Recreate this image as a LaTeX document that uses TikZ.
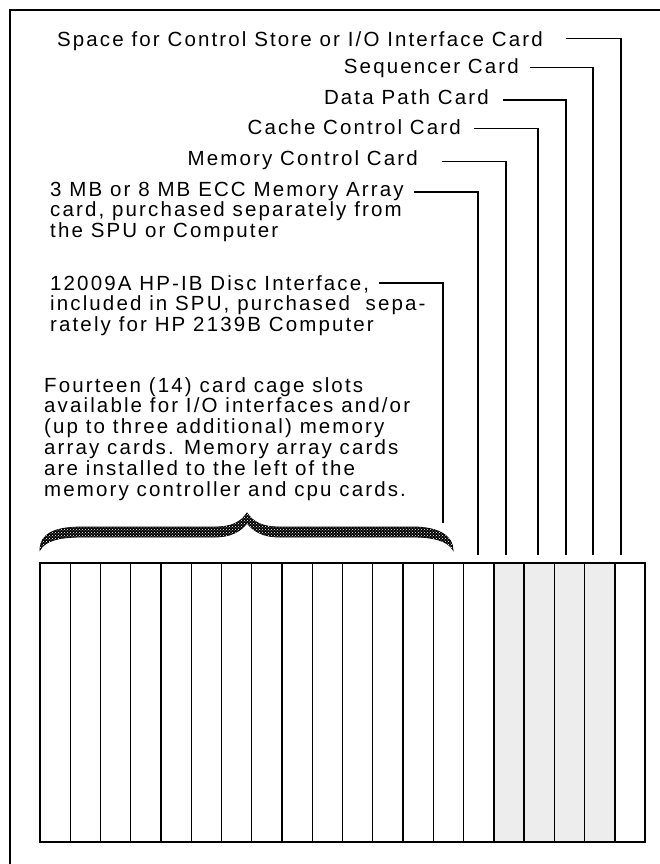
\documentclass[tikz,border=0pt]{standalone}
\usepackage{fontspec}
\setmainfont{Liberation Sans}[LetterSpace=10.4]
\usetikzlibrary{patterns}
\begin{document}
\begin{tikzpicture}[x=1pt,y=-1pt,
  lbl/.style={inner sep=0pt, font=\fontsize{20.5}{21}\selectfont},
  lbr/.style={lbl, anchor=base east},
  lbw/.style={lbl, anchor=base west},
  wire/.style={line width=1.4pt},
  slotline/.style={line width=1.3pt},
  frameline/.style={line width=1.4pt},
  cardfill/.style={fill=black!7},
  bracestyle/.style={fill=black, draw=black, line width=0.8pt,
     postaction={pattern=crosshatch dots, pattern color=white}}]
\useasboundingbox (0,0) rectangle (660,864);
% outer frame
\draw[frameline] (10,864) -- (10,10) -- (660,10);

% card cage
\fill[cardfill] (493.75,563) rectangle (614.75,842);
\foreach \i in {1,...,19} \draw[slotline] ({40+30.25*\i},563) -- ({40+30.25*\i},842);
\draw[line width=1.5pt] (40,563) rectangle (645,842);
\draw[line width=2.2pt] (493.75,563) rectangle (614.75,842);

% target coordinates above the slots
\coordinate (tsp) at (621,555);
\coordinate (tsq) at (593,555);
\coordinate (tdp) at (566,555);
\coordinate (tcc) at (538,555);
\coordinate (tmc) at (506,555);
\coordinate (tma) at (478,555);
\coordinate (thp) at (443,523);

% top labels
\node[lbr] (sp) at (543,46.5) {Space for Control Store or I/O Interface Card};
\node[lbr] (sq) at (519,73.5) {Sequencer Card};
\node[lbr] (dp) at (489,105) {Data Path Card};
\node[lbr] (cc) at (461,135) {Cache Control Card};
\node[lbr] (mc) at (418,165) {Memory Control Card};

\draw[wire] ([xshift=23pt,yshift=8.2pt]sp.base east) -| (tsp);
\draw[wire] ([xshift=11pt,yshift=5.8pt]sq.base east) -| (tsq);
\draw[wire] ([xshift=14pt,yshift=5pt]dp.base east) -| (tdp);
\draw[wire] ([xshift=13pt,yshift=6.7pt]cc.base east) -| (tcc);
\draw[wire] ([xshift=24pt,yshift=3.3pt]mc.base east) -| (tmc);

% memory array block
\node[lbw] (ma1) at (50,196) {3 MB or 8 MB ECC Memory Array};
\node[lbw] (ma2) at (50,216.5) {card, purchased separately from};
\node[lbw] (ma3) at (50,237) {the SPU or Computer};
\draw[wire] ([xshift=10pt,yshift=4pt]ma1.base east) -| (tma);

% HP-IB block
\node[lbw] (hp1) at (50,290) {12009A HP-IB Disc Interface,};
\node[lbw] (hp2) at (50,310.5) {included in SPU, purchased\ \ sepa-};
\node[lbw] (hp3) at (50,331) {rately for HP 2139B Computer};
\draw[wire] ([xshift=10pt,yshift=7pt]hp1.base east) -| (thp);

% fourteen slots block
\node[lbw] (fs1) at (44,392) {Fourteen (14) card cage slots};
\node[lbw] (fs2) at (44,412.8) {available for I/O interfaces and/or};
\node[lbw] (fs3) at (44,433.6) {(up to three additional) memory};
\node[lbw] (fs4) at (44,454.4) {array cards. Memory array cards};
\node[lbw] (fs5) at (44,475.2) {are installed to the left of the};
\node[lbw] (fs6) at (44,496) {memory controller and cpu cards.};

% brace
\path[bracestyle] (40,550) .. controls (40,533) and (56,527) .. (82,527)
  -- (215,527) .. controls (232,527) and (241,522) .. (247,513)
  .. controls (253,522) and (262,527) .. (279,527)
  -- (413,527) .. controls (440,527) and (453,537) .. (453,550)
  .. controls (448,541) and (434,537) .. (413,537)
  -- (279,537) .. controls (263,537) and (253,531) .. (247,523)
  .. controls (241,531) and (231,537) .. (215,537)
  -- (82,537) .. controls (58,537) and (45,541) .. (40,550) -- cycle;
\end{tikzpicture}
\end{document}
